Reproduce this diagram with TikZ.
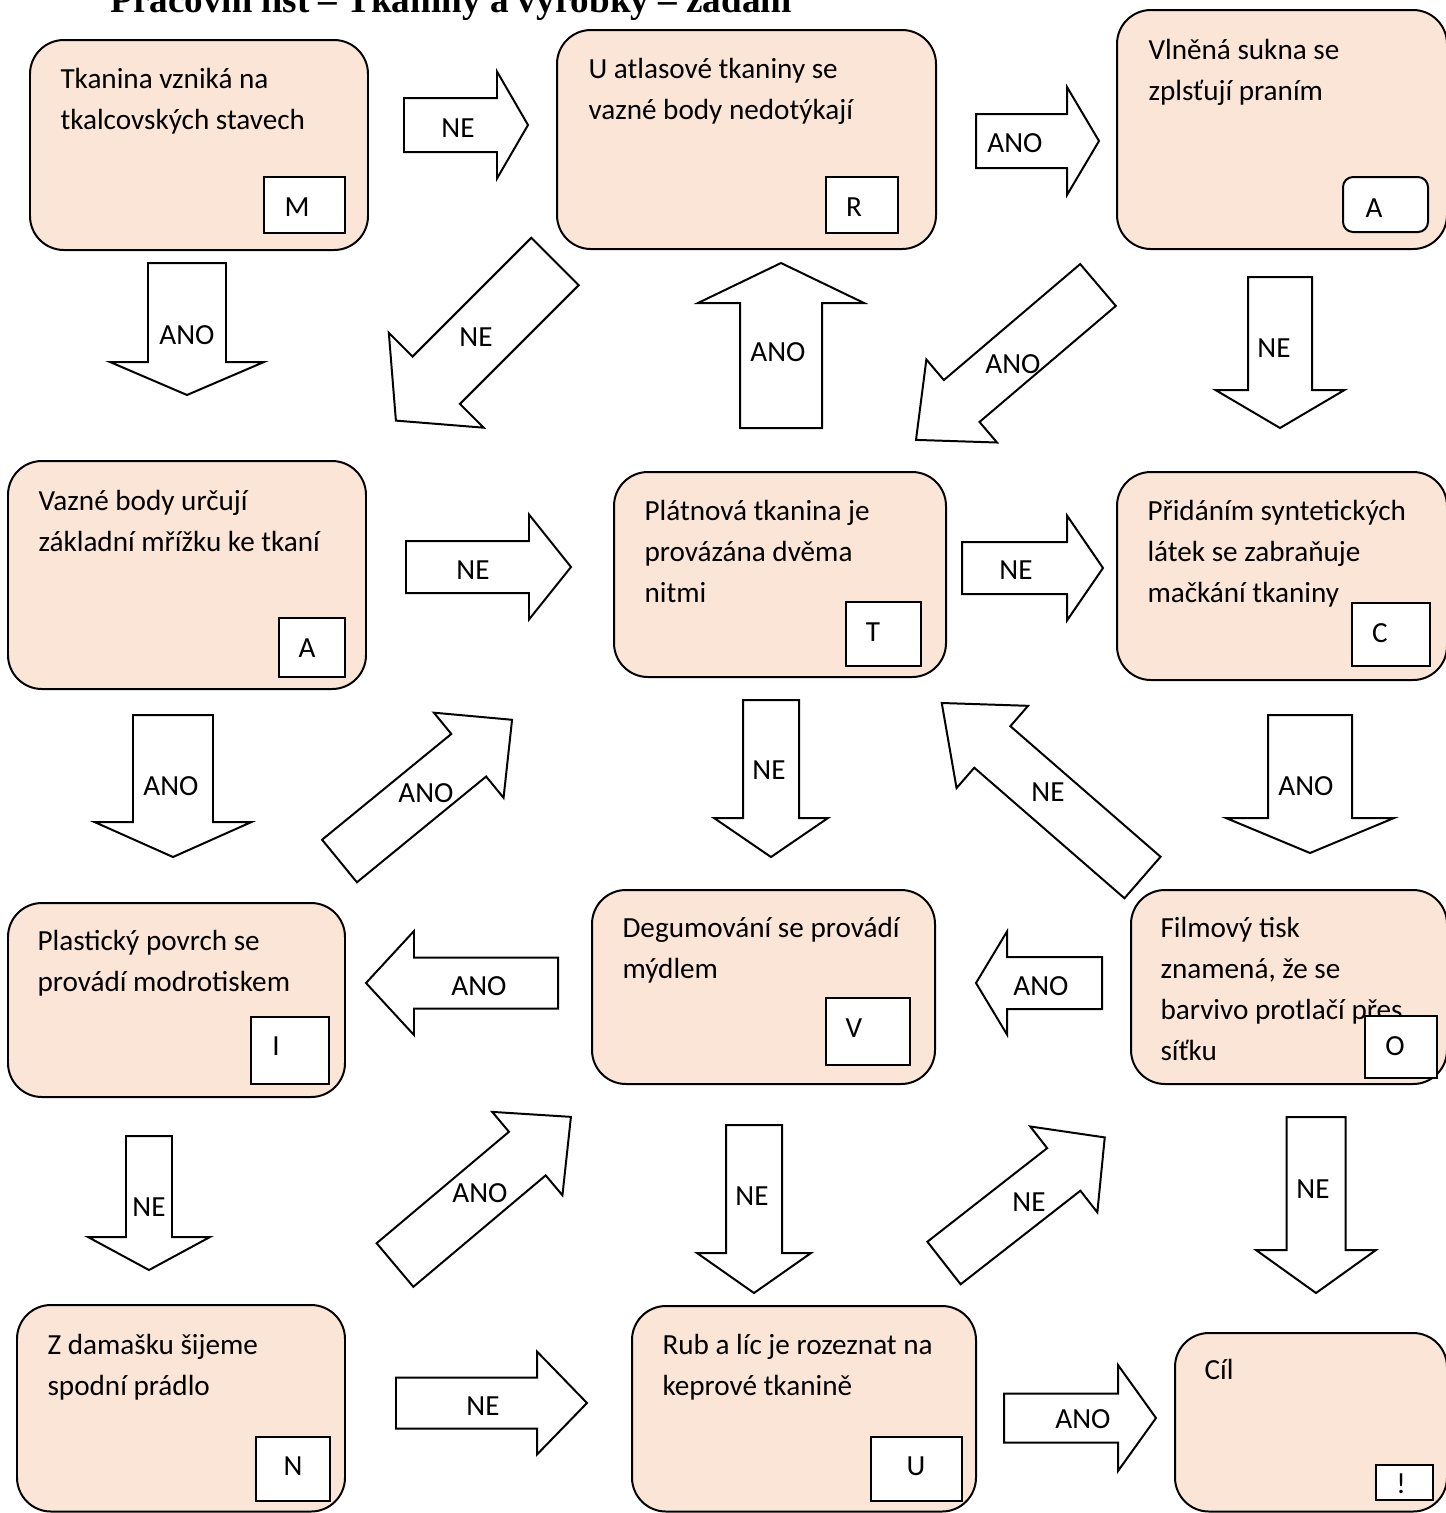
\documentclass[tikz,border=0pt]{standalone}
\usepackage{fontspec}
\setmainfont{Carlito}
\newfontfamily\titlefont{Liberation Serif}
\usepackage{tikz}
\usetikzlibrary{positioning,fit}
\definecolor{peach}{RGB}{251,229,214}
\tikzstyle{card}=[draw=black,line width=0.75pt,fill=peach,rounded corners=12.8pt,inner sep=0pt]
\tikzstyle{letterbox}=[draw=black,line width=0.75pt,fill=white,inner sep=0pt]
\tikzstyle{cardtext}=[anchor=base west,align=left,inner sep=0pt,font=\fontsize{11}{15.4}\selectfont]
\tikzstyle{blockarrow}=[draw=black,line width=0.75pt,fill=white,line join=miter]
\tikzstyle{answer}=[inner sep=0pt,font=\fontsize{11}{13}\selectfont]

\begin{document}
\begin{tikzpicture}[x=0.377pt,y=-0.377pt]
  \useasboundingbox (0,0) rectangle (1446,1513);
  \clip (0,0) rectangle (1446,1513);

  \node[anchor=base,inner sep=0pt,font=\titlefont\bfseries\fontsize{14}{16}\selectfont] (title) at (451,12)
    {Pracovní list – Tkaniny a výrobky – zadání};

  % cards
  \foreach \nm/\xa/\ya/\xb/\yb in {M/30/40/368/250, R/557/30/936/249, A1/1117/10/1447/249,
                                   A2/8/461/366/689, T/614/472/946/677, C/1117/472/1447/680,
                                   I/8/903/345/1097, V/592/890/935/1084, O/1131/890/1447/1084,
                                   N/17/1305/345/1511.5, U/632/1306/976/1511.5, cil/1175/1333/1447/1511.5}
    \node[card,fit={(\xa,\ya) (\xb,\yb)}] (b\nm) {};

  % texts sit on the baseline of their last line
  \node[cardtext] (tM) at (60,129) {Tkanina vzniká na\\tkalcovských stavech};
  \node[cardtext] (tR) at (588,119) {U atlasové tkaniny se\\vazné body nedotýkají};
  \node[cardtext] (tA1) at (1148,100) {Vlněná sukna se\\zplsťují praním};
  \node[cardtext] (tA2) at (38,551) {Vazné body určují\\základní mřížku ke tkaní};
  \node[cardtext] (tT) at (644,602) {Plátnová tkanina je\\provázána dvěma\\nitmi};
  \node[cardtext] (tC) at (1147,602) {Přidáním syntetických\\látek se zabraňuje\\mačkání tkaniny};
  \node[cardtext] (tI) at (37,991) {Plastický povrch se\\provádí modrotiskem};
  \node[cardtext] (tV) at (622,978) {Degumování se provádí\\mýdlem};
  \node[cardtext] (tO) at (1160,1060) {Filmový tisk\\znamená, že se\\barvivo protlačí přes\\síťku};
  \node[cardtext] (tN) at (47,1395) {Z damašku šijeme\\spodní prádlo};
  \node[cardtext] (tU) at (662,1395) {Rub a líc je rozeznat na\\keprové tkanině};
  \node[cardtext] (tcil) at (1204,1379) {Cíl};

  % letter boxes
  \foreach \nm/\xa/\ya/\xb/\yb/\lx/\ly/\lt in {M/264/177/345/233/297/207/M, R/826/177/898/233/854/207/R,
                                               A2/279/618/345/677/307/648/A, T/846/602/921/666/873/632/T,
                                               C/1352/603/1430/666/1380/633/C, I/251/1017/329/1084/276/1046/I,
                                               V/826/998/910/1065/854/1028/V, O/1365/1016/1437/1078/1395/1046/O,
                                               N/256/1437/330/1501/293/1466/N, U/871/1437/962/1501/916/1466/U,
                                               cil/1376/1465/1433/1500/1401/1484/!}
  {
    \node[letterbox,fit={(\xa,\ya) (\xb,\yb)}] (k\nm) {};
    \node[answer] (l\nm) at (\lx,\ly) {\lt};
  }
  \node[letterbox,rounded corners=3.8pt,fit={(1343,177) (1428,232)}] (kA1) {};
  \node[answer] (lA1) at (1374,208) {A};

  % block arrows: tail x/y, angle, length, body, head width, head length, label
  \foreach \tx/\ty/\ang/\len/\bw/\hw/\hl/\lx/\ly/\lab [count=\i] in
    {404/125/0/124/54/107/31/458/128/NE, 976/141/0/123/54/108/32/1015/143/ANO,
     187/263/-90/132/78/154/33/187/335/ANO, 555/261.5/225/225/67/134/57/476/337/NE,
     781/428/90/165/82/166/40/778/352/ANO, 1098/285/220.4/239/55/109/60/1013/364/ANO,
     1280/277/-90/151/64/129/38/1274/348/NE, 406/567/0/165/52/105/42/473/570/NE,
     962/568/0/141/52/105/36/1016/570/NE, 173/715/-90/142/80/157/35/171/786/ANO,
     339.5/861/39.3/223/55/110/56/426/793/ANO, 771/700/-90/157/56/114/39/769/770/NE,
     1142.5/877.5/139/266/55/109/67/1048/792/NE, 1310/715/-90/138/84/168/35/1306/786/ANO,
     558/983/180/192/51/104/48/479/986/ANO, 1102/983/180/126/52/103/31/1041/986/ANO,
     149/1136/-90/134/46/122/33/149/1207/NE, 395/1265/40.1/230/57/109/57/480/1193/ANO,
     754/1125/-90/168/56/114/40/752/1196/NE, 944/1263/38/204/54/109/52/1029/1202/NE,
     1316/1117/-90/176/59/120/43/1313/1189/NE, 396/1403/0/191/51/103/50/483/1406/NE,
     1004/1418/0/152/49/106/38/1083/1419/ANO}
  {
    \draw[blockarrow,shift={(\tx,\ty)},rotate=\ang]
      (0,{-\bw/2}) -- ({\len-\hl},{-\bw/2}) -- ({\len-\hl},{-\hw/2}) -- (\len,0)
      -- ({\len-\hl},{\hw/2}) -- ({\len-\hl},{\bw/2}) -- (0,{\bw/2}) -- cycle;
    \node[answer] (a\i) at (\lx,\ly) {\lab};
  }
\end{tikzpicture}
\end{document}
